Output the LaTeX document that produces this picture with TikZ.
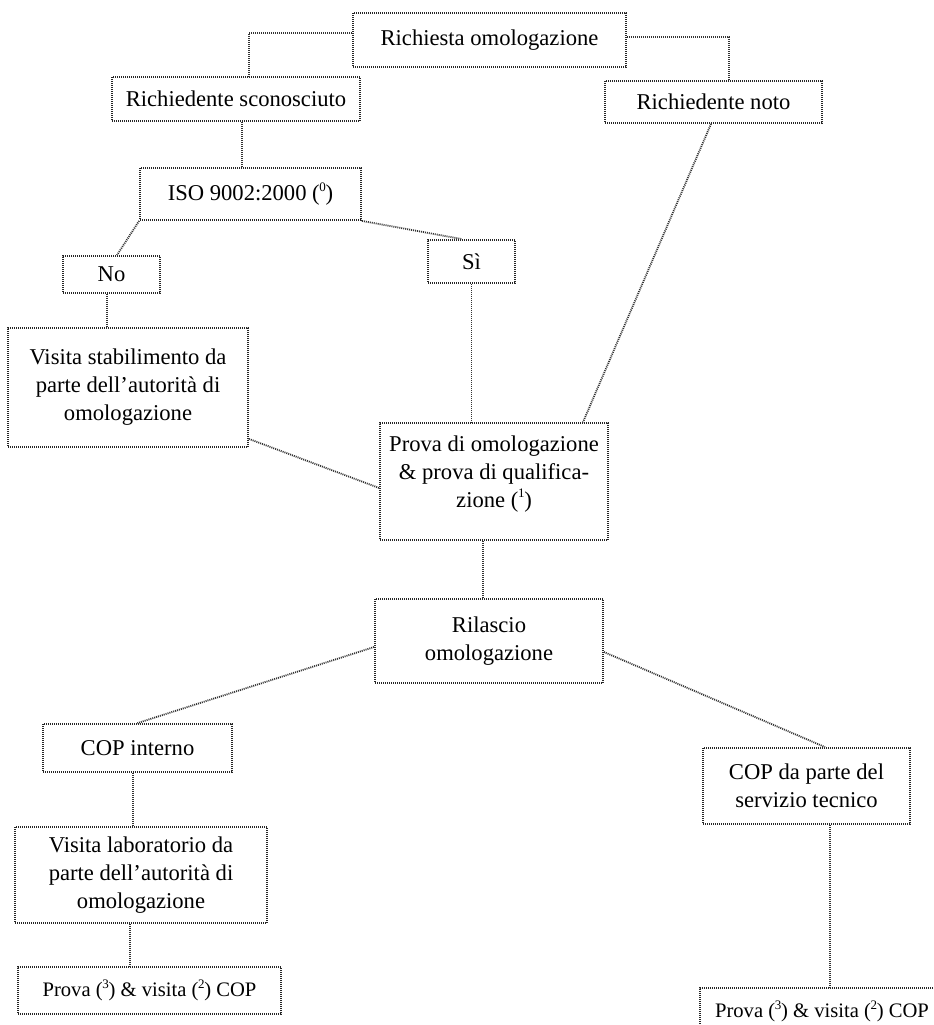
\documentclass[tikz,border=0pt]{standalone}
\usepackage{fontspec}
\setmainfont{Liberation Serif}
\newcommand\supnum[1]{(\kern-0.3pt\raisebox{0.42em}{\fontsize{13}{13}\selectfont #1}\kern-0.3pt)}
\tikzset{
  box/.style={draw=black!85, line width=1.8pt, dash pattern=on 1pt off 1pt,
    inner sep=0pt, align=center, font=\fontsize{22.6}{28}\selectfont},
  smallbox/.style={box, font=\fontsize{20.6}{26}\selectfont},
  conn/.style={draw=black!80, line width=1.8pt, dash pattern=on 1pt off 1pt}
}
\begin{document}
\begin{tikzpicture}[x=1pt,y=-1pt]
\useasboundingbox (0,0) rectangle (934,1025);
\clip (0,0) rectangle (934,1025);
\fill[white] (0,0) rectangle (934,1025);

\node[box, minimum width=273pt, minimum height=54pt] (req) at (489.5,40) {Richiesta omologazione};
\node[box, minimum width=248pt, minimum height=44pt] (unk) at (236,99) {Richiedente sconosciuto};
\node[box, minimum width=217pt, minimum height=42pt] (known) at (713.5,102) {Richiedente noto};
\node[box, minimum width=221pt, minimum height=52pt] (iso) at (250.5,194) {ISO 9002:2000 \supnum{0}};
\node[box, minimum width=97pt, minimum height=37pt] (no) at (111.5,274.5) {No};
\node[box, minimum width=87pt, minimum height=43pt] (si) at (471.5,261.5) {Sì};
\node[box, minimum width=240pt, minimum height=119pt] (vstab) at (128,387.5) {Visita stabilimento da\\parte dell’autorità di\\omologazione};
\node[box, minimum width=228pt, minimum height=117pt] (prova) at (494,481.5) {Prova di omologazione\\\& prova di qualifica-\\zione \supnum{1}\\[-8pt]\mbox{}};
\node[box, minimum width=228pt, minimum height=84pt] (ril) at (489,641) {Rilascio\\omologazione};
\node[box, minimum width=189pt, minimum height=48pt] (copint) at (137.5,748) {COP interno};
\node[box, minimum width=207pt, minimum height=76pt] (copst) at (806.5,786) {COP da parte del\\servizio tecnico};
\node[box, minimum width=252pt, minimum height=96pt] (vlab) at (141,875) {Visita laboratorio da\\parte dell’autorità di\\omologazione};
\node[smallbox, minimum width=263pt, minimum height=47pt] (pbl) at (149.5,990.5) {Prova \supnum{3} \& visita \supnum{2} COP};
\node[smallbox, minimum width=244pt, minimum height=47pt] (pbr) at (822,1011.5) {Prova \supnum{3} \& visita \supnum{2} COP};

\draw[conn] ([yshift=7pt]req.west) -| ([xshift=13pt]unk.north);
\draw[conn] ([yshift=3pt]req.east) -| ([xshift=15.5pt]known.north);
\draw[conn] ([xshift=-8.5pt]iso.north) -- ([xshift=-8.5pt]iso.north |- unk.south);
\draw[conn] (iso.south west) -- ([xshift=5.5pt]no.north);
\draw[conn] (iso.south east) -- ([xshift=-9.5pt]si.north);
\draw[conn] (si.south) -- (si.south |- prova.north);
\draw[conn] ([xshift=-4.5pt]no.south) -- ([xshift=-4.5pt]no.south |- vstab.north);
\draw[conn] ([xshift=-2.5pt]known.south) -- ([xshift=89pt]prova.north);
\draw[conn] ([yshift=9pt]vstab.south east) -- ([yshift=-6.5pt]prova.west);
\draw[conn] ([xshift=-11pt]prova.south) -- ([xshift=-11pt]prova.south |- ril.north);
\draw[conn] ([yshift=-6pt]ril.west) -- (copint.north);
\draw[conn] ([yshift=-11pt]ril.east) -- ([xshift=18.5pt]copst.north);
\draw[conn] ([xshift=-4.5pt]copint.south) -- ([xshift=-4.5pt]copint.south |- vlab.north);
\draw[conn] ([xshift=-11pt]vlab.south) -- ([xshift=-11pt]vlab.south |- pbl.north);
\draw[conn] ([xshift=23.5pt]copst.south) -- ([xshift=23.5pt]copst.south |- pbr.north);
\end{tikzpicture}
\end{document}
